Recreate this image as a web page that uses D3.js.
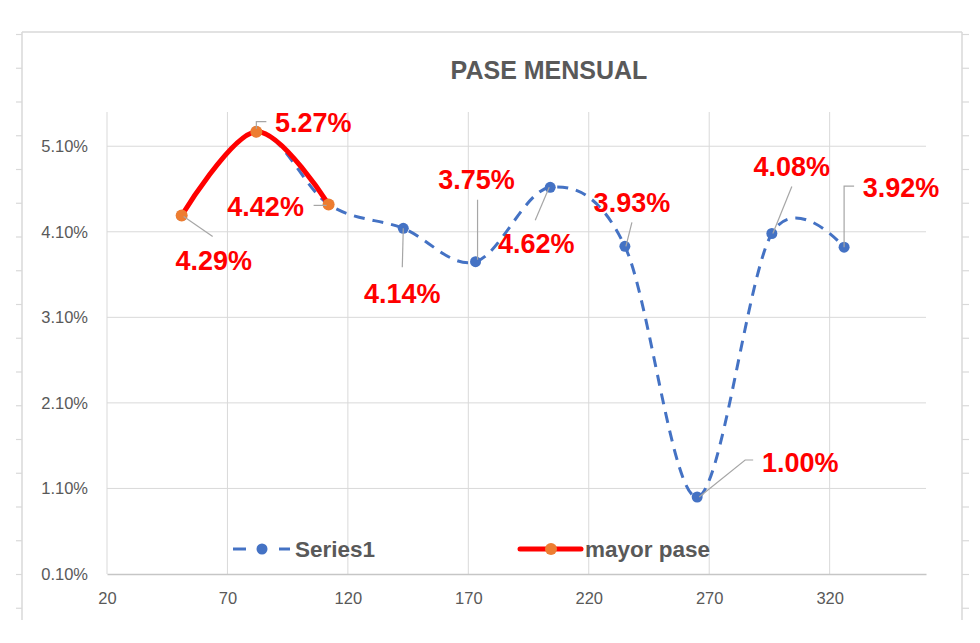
<!DOCTYPE html>
<html>
<head>
<meta charset="utf-8">
<script src="https://cdn.jsdelivr.net/npm/d3@7/dist/d3.min.js"></script>
<style>
  html, body { margin: 0; padding: 0; background: #ffffff; }
  svg { display: block; }
  text { font-family: "Liberation Sans", Arial, sans-serif; }
</style>
</head>
<body>
<svg id="chart" width="980" height="643"></svg>
<script>
// ---------- data ----------
const xValues   = [51, 82, 112, 143, 173, 204, 235, 265, 296, 326];
const series1   = [4.29, 5.27, 4.42, 4.14, 3.75, 4.62, 3.93, 1.00, 4.08, 3.92];
const mayorX    = [51, 82, 112];
const mayorPase = [4.29, 5.27, 4.42];
const yTicks    = [0.10, 1.10, 2.10, 3.10, 4.10, 5.10];
const xTicks    = [20, 70, 120, 170, 220, 270, 320];
const title     = "PASE MENSUAL";
const seriesNames = ["Series1", "mayor pase"];

// ---------- layout (label placement relative to its point) ----------
const labelLayout = [
  {dx: 32,  dy: 45,  leader: [[2,1],[31,21]]},
  {dx: 57,  dy: -9,  leader: [[0,-3],[0,-10],[10,-10]]},
  {dx: -63, dy: 2,   leader: [[-15,1],[-2,1]]},
  {dx: -1,  dy: 65,  leader: [[0,0],[-1,39]]},
  {dx: 1,   dy: -82, leader: [[2,-2],[2,-62]]},
  {dx: -14, dy: 56,  leader: [[-1,0],[-15,33]]},
  {dx: 7,   dy: -44, leader: [[1,0],[7,-24]]},
  {dx: 103, dy: -35, leader: [[2,0],[48,-37],[56,-37]]},
  {dx: 20,  dy: -67, leader: [[1,0],[20,-47]]},
  {dx: 57,  dy: -60, leader: [[0,0],[0,-61],[10,-61]]}
];

const svg = d3.select("#chart");
const grey = "#595959";

// ---------- sheet decoration / chart border ----------
const border = "#d9d9d9";
svg.append("line").attr("x1", 22).attr("x2", 962).attr("y1", 32).attr("y2", 32)
  .attr("stroke", border).attr("stroke-width", 1.5);
svg.append("line").attr("x1", 22).attr("x2", 22).attr("y1", 32).attr("y2", 620)
  .attr("stroke", border).attr("stroke-width", 1.5);
svg.append("line").attr("x1", 962).attr("x2", 962).attr("y1", 32).attr("y2", 620)
  .attr("stroke", border).attr("stroke-width", 1.5);
const rowLines = d3.range(18).map(i => 34.5 + i * 33.75);
svg.selectAll(".rowL").data(rowLines).enter().append("line")
  .attr("x1", 16).attr("x2", 22).attr("y1", d => d).attr("y2", d => d)
  .attr("stroke", border).attr("stroke-width", 1.2);
svg.selectAll(".rowR").data(rowLines).enter().append("line")
  .attr("x1", 962).attr("x2", 969).attr("y1", d => d).attr("y2", d => d)
  .attr("stroke", border).attr("stroke-width", 1.2);

// ---------- scales ----------
const x = d3.scaleLinear().domain([20, 360]).range([107, 926]);
const y = d3.scaleLinear().domain([0.10, 5.50]).range([574, 112]);

// ---------- gridlines ----------
svg.append("g").selectAll("line").data(yTicks.slice(1)).enter().append("line")
  .attr("x1", x(20)).attr("x2", x(360))
  .attr("y1", d => y(d)).attr("y2", d => y(d))
  .attr("stroke", "#d9d9d9").attr("stroke-width", 1);
svg.append("g").selectAll("line").data(xTicks).enter().append("line")
  .attr("x1", d => x(d)).attr("x2", d => x(d))
  .attr("y1", y(5.50)).attr("y2", y(0.10))
  .attr("stroke", "#d9d9d9").attr("stroke-width", 1);

// ---------- axes ----------
const yAxis = d3.axisLeft(y).tickValues(yTicks)
  .tickFormat(d => d.toFixed(2) + "%").tickSize(0).tickPadding(19);
const gy = svg.append("g").attr("transform", `translate(${x(20)},0)`).call(yAxis);
gy.select(".domain").remove();
gy.selectAll("text").attr("fill", grey).style("font-size", "16.5px")
  .style("font-family", "'Liberation Sans', Arial, sans-serif");

const xAxis = d3.axisBottom(x).tickValues(xTicks).tickFormat(d3.format("d"))
  .tickSize(0).tickPadding(18);
const gx = svg.append("g").attr("transform", `translate(0,${y(0.10)})`).call(xAxis);
gx.select(".domain").attr("stroke", "#c6c6c6").attr("stroke-width", 1.3);
gx.selectAll("text").attr("fill", grey).style("font-size", "16.5px")
  .style("font-family", "'Liberation Sans', Arial, sans-serif");

// ---------- title ----------
svg.append("text").attr("x", 549).attr("y", 79).attr("text-anchor", "middle")
  .attr("fill", grey).style("font-size", "25px").style("font-weight", "bold")
  .text(title);

// ---------- series ----------
const blue = "#4472C4", red = "#FF0000", orange = "#ED7D31";
const pts1 = xValues.map((v, i) => [x(v), y(series1[i])]);
const pts2 = mayorX.map((v, i) => [x(v), y(mayorPase[i])]);
const line = d3.line().curve(d3.curveCatmullRom.alpha(0));

svg.append("path").attr("d", line(pts1)).attr("fill", "none")
  .attr("stroke", blue).attr("stroke-width", 3).attr("stroke-dasharray", "11,8");
svg.selectAll(".m1").data(pts1).enter().append("circle")
  .attr("cx", d => d[0]).attr("cy", d => d[1]).attr("r", 5.5).attr("fill", blue);

svg.append("path").attr("d", line(pts2)).attr("fill", "none")
  .attr("stroke", red).attr("stroke-width", 5).attr("stroke-linecap", "round");
svg.selectAll(".m2").data(pts2).enter().append("circle")
  .attr("cx", d => d[0]).attr("cy", d => d[1]).attr("r", 6).attr("fill", orange);

// ---------- data labels ----------
const lbl = svg.append("g");
pts1.forEach((p, i) => {
  const L = labelLayout[i];
  lbl.append("polyline")
    .attr("points", L.leader.map(o => [p[0] + o[0], p[1] + o[1]].join(",")).join(" "))
    .attr("fill", "none").attr("stroke", "#a6a6a6").attr("stroke-width", 1.2);
  lbl.append("text").attr("x", p[0] + L.dx).attr("y", p[1] + L.dy).attr("dy", "0.36em")
    .attr("text-anchor", "middle").attr("fill", red)
    .style("font-size", "27px").style("font-weight", "bold")
    .text(series1[i].toFixed(2) + "%");
});

// ---------- legend ----------
const lg = svg.append("g");
lg.append("line").attr("x1", 233).attr("x2", 246).attr("y1", 549).attr("y2", 549)
  .attr("stroke", blue).attr("stroke-width", 3);
lg.append("line").attr("x1", 279).attr("x2", 290).attr("y1", 549).attr("y2", 549)
  .attr("stroke", blue).attr("stroke-width", 3);
lg.append("circle").attr("cx", 262).attr("cy", 549).attr("r", 5.5).attr("fill", blue);
lg.append("text").attr("x", 295).attr("y", 549).attr("dy", "0.36em")
  .attr("fill", grey).style("font-size", "22.5px").style("font-weight", "bold")
  .text(seriesNames[0]);
lg.append("line").attr("x1", 520).attr("x2", 581).attr("y1", 549).attr("y2", 549)
  .attr("stroke", red).attr("stroke-width", 5).attr("stroke-linecap", "round");
lg.append("circle").attr("cx", 551).attr("cy", 549).attr("r", 6).attr("fill", orange);
lg.append("text").attr("x", 585).attr("y", 549).attr("dy", "0.36em")
  .attr("fill", grey).style("font-size", "22.5px").style("font-weight", "bold")
  .text(seriesNames[1]);
</script>
</body>
</html>
